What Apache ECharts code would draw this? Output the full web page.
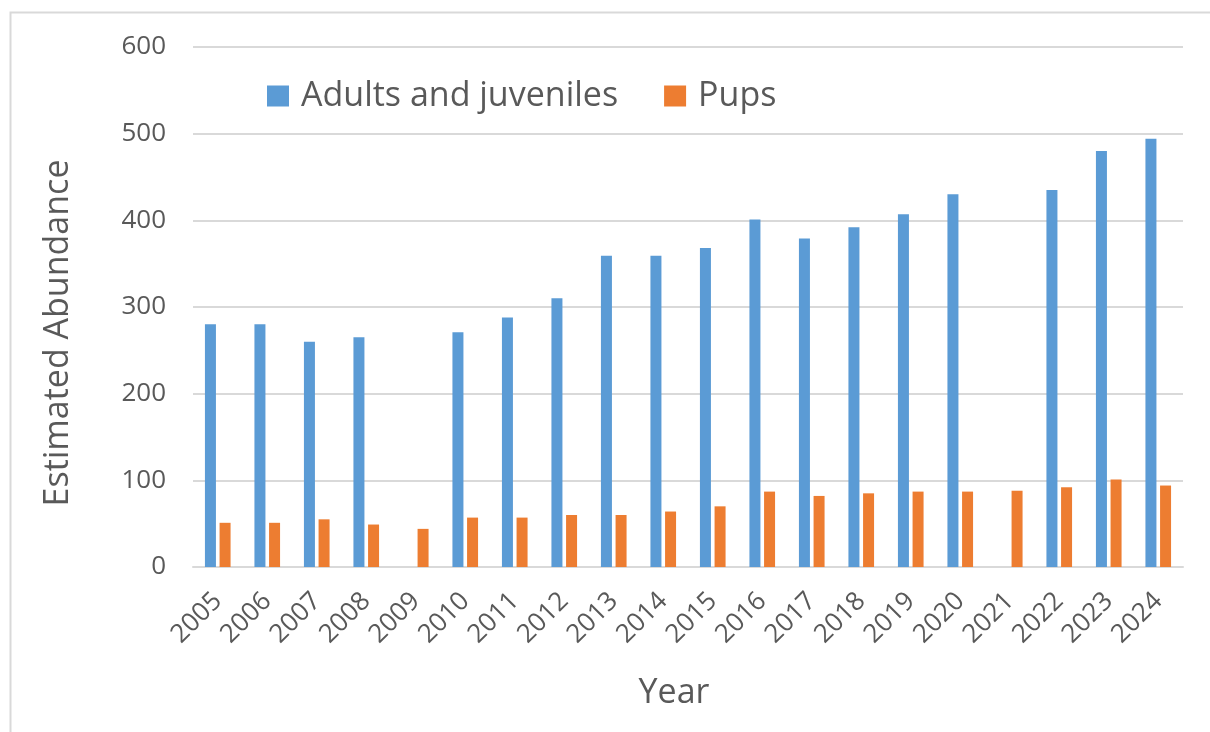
<!DOCTYPE html>
<html>
<head>
<meta charset="utf-8">
<script src="https://cdn.jsdelivr.net/npm/echarts@6/dist/echarts.min.js"></script>
<style>
html,body{margin:0;padding:0;background:#fff;}
#chart{width:1210px;height:732px;}
</style>
</head>
<body>
<div id="chart"></div>
<script>
const years = ['2005','2006','2007','2008','2009','2010','2011','2012','2013','2014','2015','2016','2017','2018','2019','2020','2021','2022','2023','2024'];
const adultsJuveniles = [280,280,260,265,null,271,288,310,359,359,368,401,379,392,407,430,null,435,480,494];
const pups = [51,51,55,49,44,57,57,60,60,64,70,87,82,85,87,87,88,92,101,94];
const yTicks = {min:0, max:600, interval:100};
const seriesNames = ['Adults and juveniles','Pups'];
const xTitle = 'Year';
const yTitle = 'Estimated Abundance';

const FONT = "'Open Sans', sans-serif";
const TXT = '#595959';
const chart = echarts.init(document.getElementById('chart'), null, {renderer:'canvas'});
chart.setOption({
  animation:false,
  backgroundColor:'#fff',
  textStyle:{fontFamily:FONT},
  grid:{left:193, right:27, top:47, bottom:165, containLabel:false},
  legend:{
    left:262, top:74, itemWidth:22, itemHeight:21, itemGap:46,
    icon:'rect',
    textStyle:{fontFamily:FONT, fontSize:34, color:TXT, padding:[0,0,0,7]},
    data:seriesNames
  },
  xAxis:{
    type:'category', data:years,
    axisLine:{lineStyle:{color:'#d9d9d9', width:2}},
    axisTick:{show:false},
    axisLabel:{rotate:45, margin:30, fontFamily:FONT, fontSize:26, color:TXT, interval:0}
  },
  yAxis:{
    type:'value', min:yTicks.min, max:yTicks.max, interval:yTicks.interval,
    axisLine:{show:false}, axisTick:{show:false},
    splitLine:{lineStyle:{color:'#d9d9d9', width:2}},
    axisLabel:{margin:27, fontFamily:FONT, fontSize:26, color:TXT}
  },
  series:[
    {name:seriesNames[0], type:'bar', data:adultsJuveniles, barWidth:11, barGap:'33%', itemStyle:{color:'#5b9bd5'}},
    {name:seriesNames[1], type:'bar', data:pups, barWidth:11, itemStyle:{color:'#ed7d31'}}
  ],
  graphic:[
    {type:'rect', left:8, top:10, shape:{width:1400, height:900}, style:{fill:'none', stroke:'#d9d9d9', lineWidth:2}, silent:true},
    {type:'text', style:{text:xTitle, font:"34px 'Open Sans', sans-serif", fill:TXT, textAlign:'center', textVerticalAlign:'middle'}, x:674, y:693},
    {type:'text', style:{text:yTitle, font:"34px 'Open Sans', sans-serif", fill:TXT, textAlign:'center', textVerticalAlign:'middle'}, x:58, y:333, rotation:Math.PI/2}
  ]
});
</script>
</body>
</html>
